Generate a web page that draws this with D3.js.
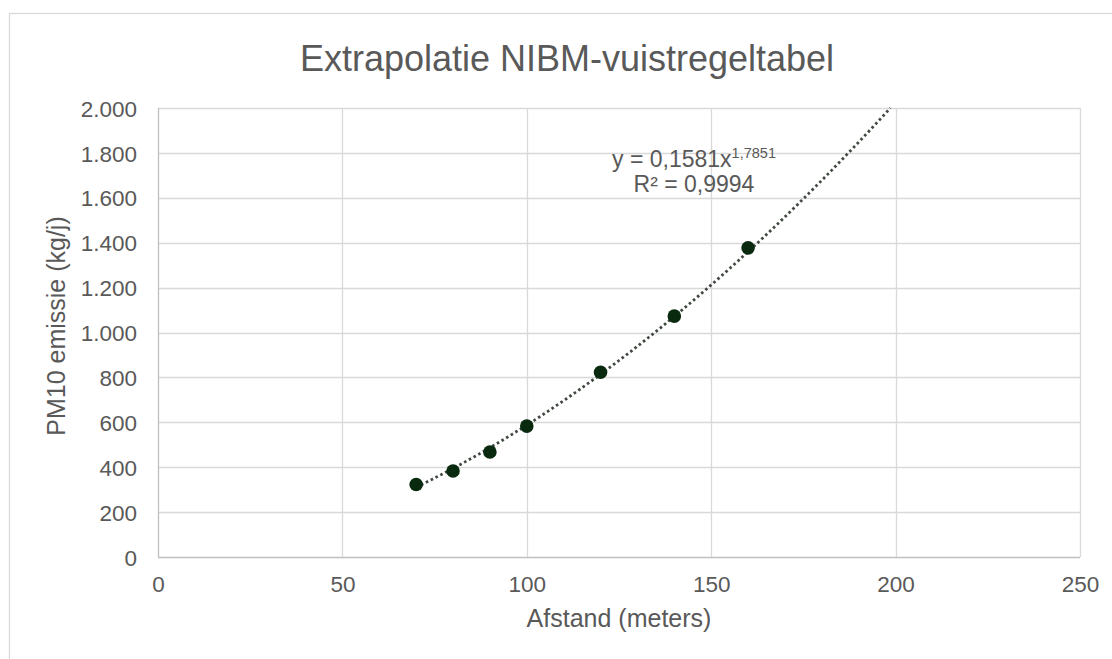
<!DOCTYPE html>
<html><head><meta charset="utf-8">
<script src="https://cdn.jsdelivr.net/npm/d3@7"></script>
<style>body{margin:0;background:#fff}svg{display:block}text{font-family:"Liberation Sans",Arial,sans-serif;fill:#595959}</style>
</head><body><svg id="c" width="1112" height="659"></svg>
<script>
const distances = [70, 80, 90, 100, 120, 140, 160];
const emissions = [323, 383, 468, 583, 823, 1073, 1377];
const xTicks = [0, 50, 100, 150, 200, 250];
const yTicks = [0, 200, 400, 600, 800, 1000, 1200, 1400, 1600, 1800, 2000];
const trendA = 0.1581, trendB = 1.7851;
const title = "Extrapolatie NIBM-vuistregeltabel";
const xTitle = "Afstand (meters)";
const yTitle = "PM10 emissie (kg/j)";

const svg = d3.select("#c");
const m = {l:158, r:1080, t:108, b:557};
const x = d3.scaleLinear().domain([0,250]).range([m.l, m.r]);
const y = d3.scaleLinear().domain([0,2000]).range([m.b, m.t]);

// outer chart border
svg.append("rect").attr("x",9.5).attr("y",13.5).attr("width",1120).attr("height",700)
  .attr("fill","none").attr("stroke","#d9d9d9").attr("stroke-width",1.3);

const fmt = d => d3.format(",")(d).replace(/,/g,".");

// grid
svg.append("g").selectAll("line").data(yTicks).join("line")
  .attr("x1",m.l).attr("x2",m.r).attr("y1",d=>Math.round(y(d))+0.5).attr("y2",d=>Math.round(y(d))+0.5)
  .attr("stroke",d=>d===0?"#bfbfbf":"#d9d9d9").attr("stroke-width",1.3);
svg.append("g").selectAll("line").data(xTicks).join("line")
  .attr("y1",m.t).attr("y2",m.b).attr("x1",d=>Math.round(x(d))+0.5).attr("x2",d=>Math.round(x(d))+0.5)
  .attr("stroke",d=>d===0?"#bfbfbf":"#d9d9d9").attr("stroke-width",1.3);

// axes labels via d3 axes
const yAxis = svg.append("g").attr("transform",`translate(${m.l-21},0)`)
  .call(d3.axisLeft(y).tickValues(yTicks).tickFormat(fmt).tickSize(0).tickPadding(0));
yAxis.select(".domain").remove();
yAxis.selectAll("text").attr("font-size",22.5).style("fill","#595959").attr("dy","0.36em")
  .style("font-family","'Liberation Sans',Arial,sans-serif");
const xAxis = svg.append("g").attr("transform",`translate(0,${m.b+19})`)
  .call(d3.axisBottom(x).tickValues(xTicks).tickFormat(d3.format("d")).tickSize(0).tickPadding(0));
xAxis.select(".domain").remove();
xAxis.selectAll("text").attr("font-size",22.5).style("fill","#595959").attr("dy","0.71em")
  .style("font-family","'Liberation Sans',Arial,sans-serif");

// titles
svg.append("text").attr("x",567).attr("y",71).attr("text-anchor","middle").attr("font-size",36).text(title);
svg.append("text").attr("x",619).attr("y",627).attr("text-anchor","middle").attr("font-size",25).text(xTitle);
svg.append("text").attr("transform",`translate(65,326) rotate(-90)`).attr("text-anchor","middle").attr("font-size",25).text(yTitle);

// trendline
const xEnd = Math.pow(2000/trendA, 1/trendB);
const tx = d3.range(distances[0], xEnd, 0.5).concat([xEnd]);
svg.append("path").datum(tx)
  .attr("d", d3.line().x(d=>x(d)).y(d=>y(trendA*Math.pow(d,trendB))))
  .attr("fill","none").attr("stroke","#404a40").attr("stroke-width",2.8)
  .attr("stroke-dasharray","2.6,2.8");

// points
svg.append("g").selectAll("circle").data(distances.map((d,i)=>[d,emissions[i]])).join("circle")
  .attr("cx",d=>x(d[0])).attr("cy",d=>y(d[1])).attr("r",6.8).attr("fill","#0a2a10");

// equation
const eq = svg.append("text").attr("x",694).attr("y",167).attr("text-anchor","middle").attr("font-size",23);
eq.append("tspan").text("y = 0,1581x");
eq.append("tspan").attr("font-size",14.5).attr("dy",-9).text("1,7851");
svg.append("text").attr("x",694).attr("y",192).attr("text-anchor","middle").attr("font-size",23).text("R² = 0,9994");
</script></body></html>
